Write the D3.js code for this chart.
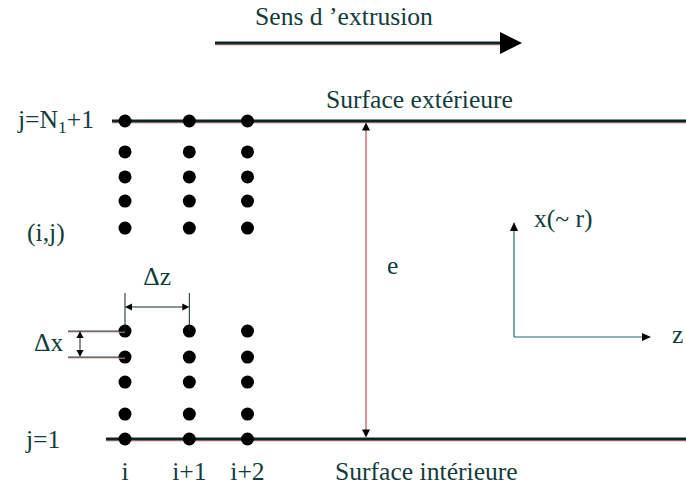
<!DOCTYPE html>
<html><head><meta charset="utf-8">
<script src="https://cdn.jsdelivr.net/npm/d3@7"></script>
<style>body{margin:0;background:#fff}text{font-family:"Liberation Serif","DejaVu Serif","Noto Serif","Times New Roman",serif;fill:#123c3c}</style>
</head><body><svg id="c" width="686" height="489"></svg>
<script>
// ---- data ----
const columns = ["i", "i+1", "i+2"];            // column (z) indices
const columnIndex = [0, 1.05, 2];                // estimated column positions (grid units)
const topRows = [0, 1.19, 2.15, 3.08, 4.12];     // node rows below outer surface (grid units)
const bottomRows = [0, 0.96, 2.19, 3.15, 4.15];  // node rows above inner surface (grid units)
const labels = {
  title: "Sens d \u2019extrusion",
  outer: "Surface ext\u00e9rieure",
  inner: "Surface int\u00e9rieure",
  jTop: "j=N", jTopSub: "1", jTopEnd: "+1",
  ij: "(i,j)", j1: "j=1", dz: "\u0394z", dx: "\u0394x", e: "e",
  axX: "x(~ r)", axZ: "z"
};

// ---- scales ----
const W = 686, H = 489;
const z = d3.scaleLinear().domain([0, 2]).range([125, 247.5]);
const yTop = d3.scaleLinear().domain([0, 4]).range([121, 225]);   // downward from outer surface
const yBot = d3.scaleLinear().domain([0, 4]).range([439, 335]);   // upward from inner surface

const svg = d3.select("#c");
const ink = "#0c2626", fringe = "#f2a8a8";

// font size fitted so the reference label width (≈187px) is reproduced
const probe = svg.append("text").attr("font-size", 20).text(labels.outer);
const fs = Math.max(16, Math.min(26, 20 * 187 / probe.node().getComputedTextLength()));
probe.remove();

function line(x1, y1, x2, y2, w, col, fr) {
  if (fr) svg.append("line").attr("x1", x1).attr("y1", y1 + 1).attr("x2", x2).attr("y2", y2 + 1)
    .attr("stroke", fringe).attr("stroke-width", w);
  return svg.append("line").attr("x1", x1).attr("y1", y1).attr("x2", x2).attr("y2", y2)
    .attr("stroke", col || ink).attr("stroke-width", w);
}
function head(x, y, dir, len, half) {
  let p;
  if (dir === "r") p = [[x, y], [x - len, y - half], [x - len, y + half]];
  if (dir === "l") p = [[x, y], [x + len, y - half], [x + len, y + half]];
  if (dir === "u") p = [[x, y], [x - half, y + len], [x + half, y + len]];
  if (dir === "d") p = [[x, y], [x - half, y - len], [x + half, y - len]];
  svg.append("polygon").attr("points", p.map(d => d.join(",")).join(" ")).attr("fill", "#000");
}
function txt(x, y, s, anchor) {
  return svg.append("text").attr("x", x).attr("y", y).attr("font-size", fs)
    .attr("text-anchor", anchor || "start").text(s);
}

// ---- extrusion arrow ----
txt(344, 25, labels.title, "middle");
line(215, 43, 502, 43, 3, ink, true);
head(522, 43, "r", 22, 11);

// ---- surfaces ----
line(112, yTop(0), W, yTop(0), 3, ink, true);
line(106, yBot(0), W, yBot(0), 3, ink, true);
txt(326, 108, labels.outer);
txt(335, 480, labels.inner);

// ---- nodes ----
const nodes = [];
columnIndex.forEach(c => {
  topRows.forEach(r => nodes.push({ x: z(c), y: yTop(r) }));
  bottomRows.forEach(r => nodes.push({ x: z(c), y: yBot(r) }));
});
svg.selectAll("circle.n").data(nodes).join("circle").attr("class", "n")
  .attr("cx", d => d.x).attr("cy", d => d.y).attr("r", 6.5).attr("fill", "#000");

// column labels
svg.selectAll("text.col").data(columns).join("text").attr("class", "col")
  .attr("x", (d, i) => z(columnIndex[i])).attr("y", 480).attr("text-anchor", "middle")
  .attr("font-size", fs).text(d => d);

// left labels
const jt = svg.append("text").attr("x", 18).attr("y", 128).attr("font-size", fs);
jt.append("tspan").text(labels.jTop);
jt.append("tspan").attr("font-size", fs * 0.68).attr("dy", 5).text(labels.jTopSub);
jt.append("tspan").attr("dy", -5).text(labels.jTopEnd);
txt(27, 241, labels.ij);
txt(26, 448, labels.j1);

// ---- Δz dimension ----
const dzY = 307;
const zA = z(columnIndex[0]), zB = z(columnIndex[1]);
const yB4 = yBot(bottomRows[4]), yB3 = yBot(bottomRows[3]);
line(zA, 293, zA, yB4, 1, ink);
line(zB, 293, zB, yB4, 1, ink);
line(zA + 6, dzY, zB - 6, dzY, 1, ink);
head(zA, dzY, "l", 7, 3.5);
head(zB, dzY, "r", 7, 3.5);
txt((zA + zB) / 2, 285, labels.dz, "middle");

// ---- Δx dimension ----
line(68, yB4, zA, yB4, 1, ink, true);
line(68, yB3, zA, yB3, 1, ink, true);
line(80, yB4 + 6, 80, yB3 - 6, 1, ink);
head(80, yB4, "u", 7, 3.5);
head(80, yB3, "d", 7, 3.5);
txt(34, 351, labels.dx);

// ---- thickness e ----
const ex = 366;
line(ex, yTop(0) + 8, ex, yBot(0) - 8, 1, "#c02828");
head(ex, yTop(0) + 1.5, "u", 8, 4);
head(ex, yBot(0) - 1.5, "d", 8, 4);
txt(387, 274, labels.e);

// ---- local axes ----
const ox = 514, oy = 337;
line(ox, oy, ox, 230, 1.2, "#1f6b6b");
head(ox, 222, "u", 9, 4);
line(ox, oy, 642, oy, 1.2, "#1f6b6b");
head(651, oy, "r", 9, 4);
txt(534, 227, labels.axX);
txt(672, 343, labels.axZ);
</script></body></html>
